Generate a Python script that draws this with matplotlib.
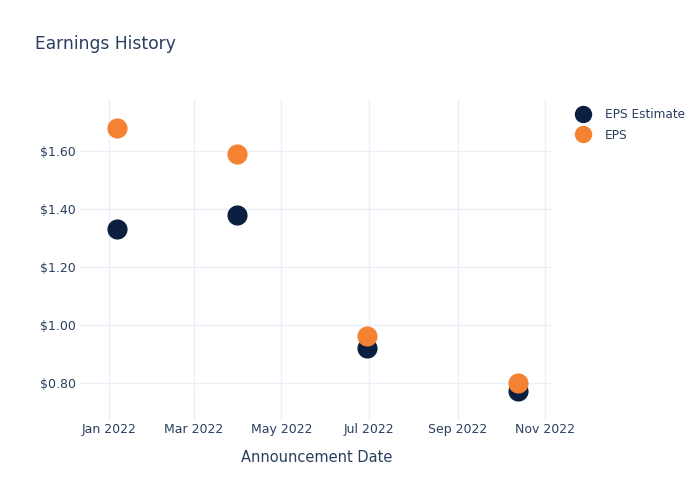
import matplotlib
matplotlib.use("Agg")
import matplotlib.pyplot as plt
import matplotlib.dates as mdates
import matplotlib.ticker as mticker
from matplotlib.lines import Line2D
import pandas as pd

fechas = pd.to_datetime(["2022-01-06", "2022-03-31", "2022-06-30", "2022-10-13"])
eps_estimado = [1.33, 1.38, 0.92, 0.77]
eps_real = [1.68, 1.59, 0.96, 0.80]

TEXTO = "#2a3f5f"
AZUL = "#0b1f41"
NARANJA = "#f58233"
GRILLA = "#ebf0f8"

plt.rcParams["font.family"] = ["DejaVu Sans"]

fig = plt.figure(figsize=(7, 5), dpi=100)
ax = fig.add_axes([80 / 700, 80 / 500, 473 / 700, 320 / 500])

ax.scatter(fechas, eps_estimado, s=210, color=AZUL, zorder=3, linewidths=0)
ax.scatter(fechas, eps_real, s=210, color=NARANJA, zorder=4, linewidths=0)

ax.set_xlim(pd.Timestamp("2021-12-11 12:00"), pd.Timestamp("2022-11-06 12:00"))
ax.set_ylim(0.671, 1.777)

ax.xaxis.set_major_locator(mdates.MonthLocator(bymonth=[1, 3, 5, 7, 9, 11]))
ax.xaxis.set_major_formatter(mdates.DateFormatter("%b %Y"))
ax.yaxis.set_major_locator(mticker.MultipleLocator(0.2))
ax.yaxis.set_major_formatter(mticker.FuncFormatter(lambda v, p: f"${v:.2f}"))

ax.grid(True, color=GRILLA, linewidth=1)
ax.set_axisbelow(True)
for sp in ax.spines.values():
    sp.set_visible(False)
ax.tick_params(length=0, labelsize=9, colors=TEXTO)
ax.tick_params(axis="x", pad=2)
ax.tick_params(axis="y", pad=3)

ax.set_xlabel("Announcement Date", fontsize=10.5, color=TEXTO, labelpad=10)
fig.text(35 / 700, 1 - 44 / 500, "Earnings History", fontsize=12.3, color=TEXTO,
         va="center", ha="left")

manijas = [
    Line2D([], [], marker="o", linestyle="", markersize=11.5, color=AZUL, label="EPS Estimate"),
    Line2D([], [], marker="o", linestyle="", markersize=11.5, color=NARANJA, label="EPS"),
]
fig.legend(handles=manijas, loc="upper left", bbox_to_anchor=(571 / 700, 1 - 103 / 500),
           frameon=False, fontsize=8.7, labelcolor=TEXTO, handletextpad=1.2,
           labelspacing=0.65, borderaxespad=0, handlelength=1.2)

fig.savefig("out.png", dpi=100)
plt.close(fig)
